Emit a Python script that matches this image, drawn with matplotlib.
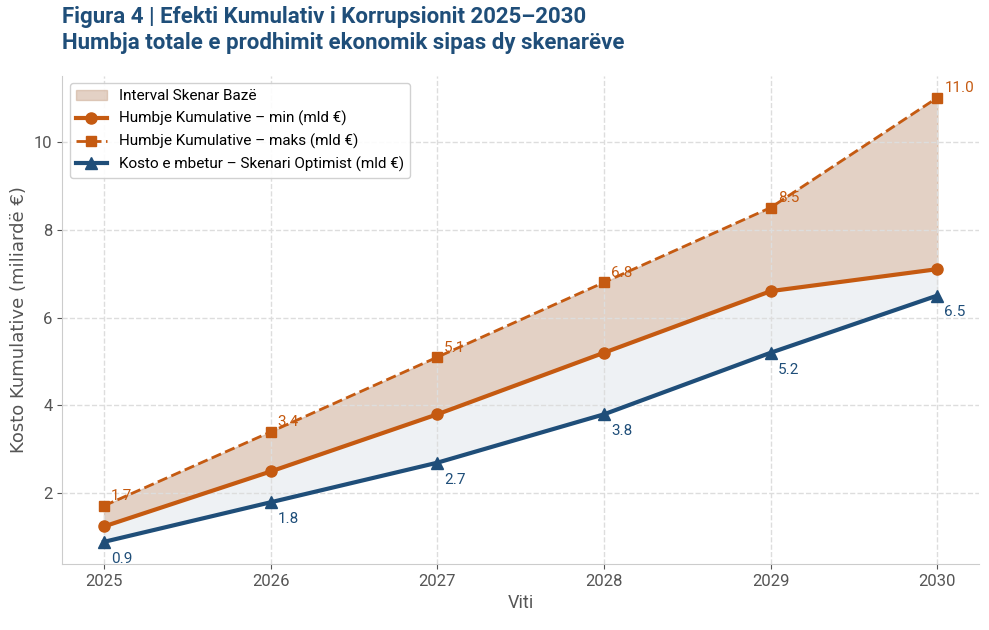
import numpy as np
import matplotlib.pyplot as plt

years = [2025, 2026, 2027, 2028, 2029, 2030]
loss_min = [1.25, 2.5, 3.8, 5.2, 6.6, 7.1]
loss_max = [1.72, 3.4, 5.1, 6.8, 8.5, 11.0]
optimist = [0.9, 1.8, 2.7, 3.8, 5.2, 6.5]
max_labels = ["1.7", "3.4", "5.1", "6.8", "8.5", "11.0"]
opt_labels = ["0.9", "1.8", "2.7", "3.8", "5.2", "6.5"]

orange = "#c55a11"
navy = "#1f4e79"
cond = ["Roboto", "DejaVu Sans"]

fig, ax = plt.subplots(figsize=(9.89, 6.3), dpi=100)
ax.fill_between(years, loss_min, loss_max, color="#c9a58c", alpha=0.5, label="Interval Skenar Bazë")
ax.fill_between(years, optimist, loss_min, color="#dfe5ea", alpha=0.5)
ax.plot(years, loss_min, color=orange, lw=3, marker="o", ms=8, label="Humbje Kumulative – min (mld €)")
ax.plot(years, loss_max, color=orange, lw=2, ls="--", marker="s", ms=7, label="Humbje Kumulative – maks (mld €)")
ax.plot(years, optimist, color=navy, lw=3, marker="^", ms=8, label="Kosto e mbetur – Skenari Optimist (mld €)")

for x, y, t in zip(years, loss_max, max_labels):
    ax.annotate(t, (x, y), xytext=(5, 4), textcoords="offset points", color=orange, fontsize=11, family=cond)
for x, y, t in zip(years, optimist, opt_labels):
    ax.annotate(t, (x, y), xytext=(5, -15), textcoords="offset points", color=navy, fontsize=11, family=cond)

ax.set_xlim(2024.75, 2030.25)
ax.set_ylim(0.4, 11.5)
ax.set_xticks(years)
ax.set_yticks([2, 4, 6, 8, 10])
ax.tick_params(labelsize=12, colors="#555555")
for lab in ax.get_xticklabels() + ax.get_yticklabels():
    lab.set_family(cond)
ax.grid(True, ls="--", color="#dddddd", lw=1)
for s in ["top", "right"]:
    ax.spines[s].set_visible(False)
for s in ["left", "bottom"]:
    ax.spines[s].set_color("#cccccc")
ax.set_xlabel("Viti", fontsize=13, color="#555555", family=cond)
ax.set_ylabel("Kosto Kumulative (miliardë €)", fontsize=13, color="#555555")
leg = ax.legend(loc="upper left", fontsize=11, framealpha=0.9, prop={"family": cond, "size": 11})
fig.text(0.063, 0.915, "Figura 4 | Efekti Kumulativ i Korrupsionit 2025–2030\nHumbja totale e prodhimit ekonomik sipas dy skenarëve",
         fontsize=16, fontweight="bold", color=navy, family=cond, va="bottom", linespacing=1.2)
fig.subplots_adjust(left=0.063, right=0.99, top=0.88, bottom=0.105)
fig.savefig("out.png")
